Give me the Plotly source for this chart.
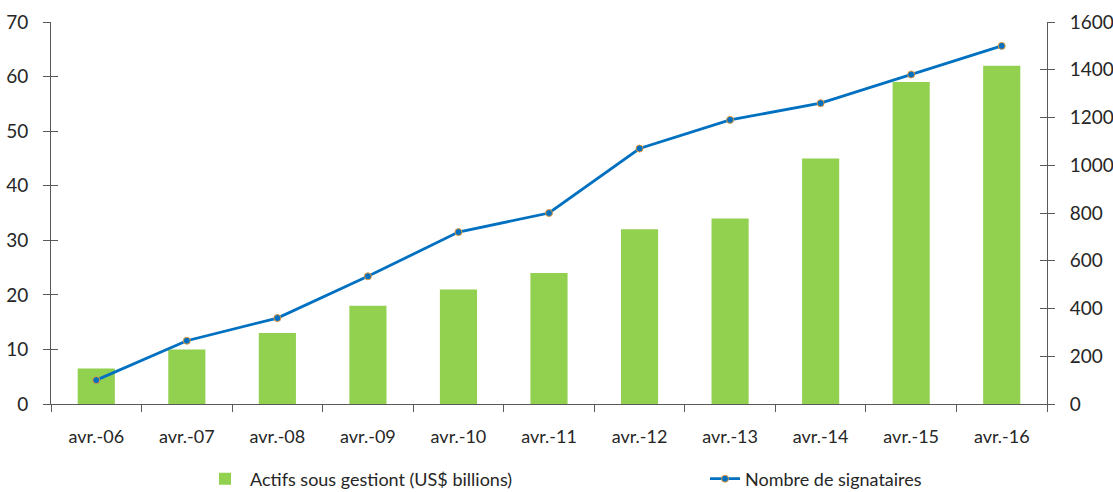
import plotly.graph_objects as go

categories = ["avr.-06", "avr.-07", "avr.-08", "avr.-09", "avr.-10", "avr.-11",
              "avr.-12", "avr.-13", "avr.-14", "avr.-15", "avr.-16"]
actifs = [6.5, 10, 13, 18, 21, 24, 32, 34, 45, 59, 62]
signataires = [100, 265, 360, 535, 720, 800, 1070, 1190, 1260, 1380, 1500]
left_ticks = [0, 10, 20, 30, 40, 50, 60, 70]
right_ticks = [0, 200, 400, 600, 800, 1000, 1200, 1400, 1600]

FONT = "Lato"
AX = "#595959"
FS = 19

fig = go.Figure()
fig.add_trace(go.Bar(
    x=categories, y=actifs, name="Actifs sous gestiont (US$ billions)",
    marker=dict(color="#92D050", line=dict(width=0)), yaxis="y", legend="legend",
))
fig.add_trace(go.Scatter(
    x=categories, y=signataires, name="Nombre de signataires", yaxis="y2",
    mode="lines+markers", legend="legend2",
    line=dict(color="#0070C0", width=2.8),
    marker=dict(color="#0070C0", size=7, line=dict(color="#E59A3C", width=1)),
))

common = dict(showgrid=False, zeroline=False, showline=True, linecolor=AX, linewidth=1,
              ticks="outside", ticklen=7, tickcolor=AX, tickwidth=1, automargin=False)

leg = dict(orientation="h", xref="container", yref="container", xanchor="left",
           y=(492 - 479) / 492, yanchor="middle", font=dict(size=18),
           bgcolor="rgba(0,0,0,0)")

fig.update_layout(
    width=1113, height=492,
    paper_bgcolor="white", plot_bgcolor="white",
    margin=dict(l=51, r=66, t=22, b=88),
    bargap=0.59,
    font=dict(family=FONT, size=FS, color="#262626"),
    xaxis=dict(**common, tickson="boundaries", type="category", tickfont=dict(size=18),
               ticklabelstandoff=16, range=[-0.5, len(categories) - 0.5]),
    yaxis=dict(**common, range=[0, 70], tickvals=left_ticks, side="left", ticklabelstandoff=11),
    yaxis2=dict(**common, range=[0, 1600], tickvals=right_ticks, overlaying="y", side="right",
                ticklabelstandoff=11),
    yaxis3=dict(range=[0, 70], tickvals=left_ticks, overlaying="y", side="left", anchor="x",
                showgrid=False, zeroline=False, showline=False, ticks="inside", ticklen=7,
                tickcolor=AX, showticklabels=False, automargin=False),
    yaxis4=dict(range=[0, 1600], tickvals=right_ticks, overlaying="y", side="right", anchor="x",
                showgrid=False, zeroline=False, showline=False, ticks="inside", ticklen=7,
                tickcolor=AX, showticklabels=False, automargin=False),
    legend=dict(**leg, x=200 / 1113, itemwidth=40),
    legend2=dict(**leg, x=705 / 1113, itemwidth=30),
    showlegend=True,
)
# dummy traces so yaxis3/yaxis4 render
fig.add_trace(go.Scatter(x=[categories[0]], y=[None], yaxis="y3", showlegend=False, hoverinfo="skip"))
fig.add_trace(go.Scatter(x=[categories[0]], y=[None], yaxis="y4", showlegend=False, hoverinfo="skip"))

fig.write_html(
    "out.html",
    config={"displayModeBar": False, "responsive": False},
    post_script="document.body.style.margin='0';document.body.style.overflow='hidden';",
)
